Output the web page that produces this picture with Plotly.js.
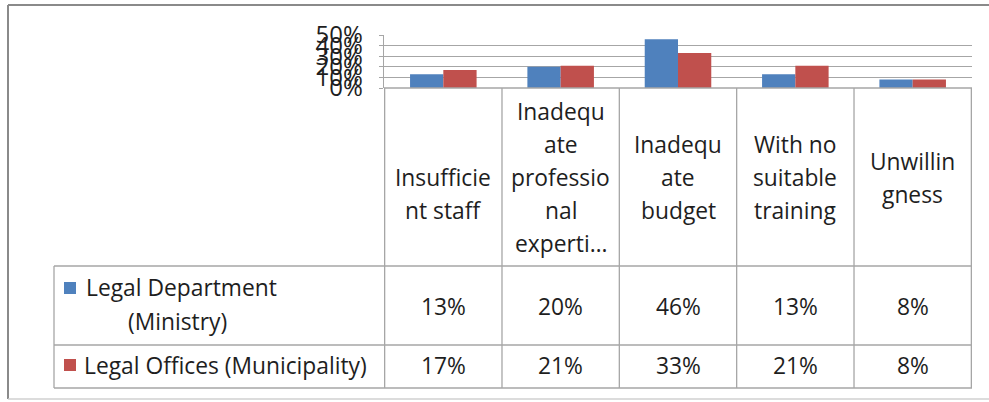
<!DOCTYPE html>
<html>
<head>
<meta charset="utf-8">
<script src="https://cdn.plot.ly/plotly-3.0.1.min.js"></script>
<style>html,body{margin:0;padding:0;background:#fff;}#chart{width:989px;height:402px;}</style>
</head>
<body>
<div id="chart"></div>
<script>
// ---- data ----
const categories = ["Insufficient staff", "Inadequate professional expertise", "Inadequate budget", "With no suitable training", "Unwillingness"];
const categoryLabelLines = [
  ["", "Insufficie", "nt staff"],
  ["Inadequ", "ate", "professio", "nal", "experti\u2026"],
  ["Inadequ", "ate", "budget"],
  ["With no", "suitable", "training"],
  ["Unwillin", "gness"]
];
const seriesNames = ["Legal Department (Ministry)", "Legal Offices (Municipality)"];
const seriesLabelLines = [["Legal Department", "(Ministry)"], ["Legal Offices (Municipality)"]];
const ministry = [0.13, 0.20, 0.46, 0.13, 0.08];
const municipality = [0.17, 0.21, 0.33, 0.21, 0.08];
const yTickVals = [0, 0.1, 0.2, 0.3, 0.4, 0.5];
const yTickText = ["0%", "10%", "20%", "30%", "40%", "50%"];

// ---- style / layout helpers ----
const W = 989, H = 402;
const colors = ["#4F81BD", "#C0504D"];
const FONT = "'Open Sans', Lato, sans-serif";
const TXT = "#1e1e1e";
const GRID = "#a6a6a6";
const FS = 22.8;
const px = p => p / W;
const py = p => 1 - p / H;

const plotLeft = 384, plotRight = 972, plotTop = 35, plotBottom = 88;
const headBottom = 266, row1Bottom = 345, tableBottom = 388, tableLeft = 54;

const seriesValues = [ministry, municipality];
const traces = seriesValues.map((vals, i) => ({
  type: "bar",
  x: categories,
  y: vals,
  name: seriesNames[i],
  marker: {color: colors[i]},
  hoverinfo: "skip"
}));

const shapes = [];
const annotations = [];
const line = (x0, y0, x1, y1, color, width, xref) => shapes.push({
  type: "line", xref: xref || "paper", yref: "paper",
  x0: xref === "x" ? x0 : px(x0), x1: xref === "x" ? x1 : px(x1),
  y0: py(y0), y1: py(y1), line: {color: color, width: width}
});

// outer frame
line(8, 5, W, 5, "#8a8a8a", 2);
line(8, 5, 8, 399, "#8a8a8a", 2);
line(8, 399, W, 399, "#d0d0d0", 1.5);

// table lines
line(plotLeft, plotBottom, plotRight, plotBottom, GRID, 1.3);
line(tableLeft, headBottom, plotRight, headBottom, GRID, 1.3);
line(tableLeft, row1Bottom, plotRight, row1Bottom, GRID, 1.3);
line(tableLeft, tableBottom, plotRight, tableBottom, GRID, 1.3);
line(tableLeft, headBottom, tableLeft, tableBottom, GRID, 1.3);
for (let k = 0; k <= categories.length; k++) {
  line(k - 0.5, plotBottom, k - 0.5, tableBottom, GRID, 1.3, "x");
}

// category header text
const headCenter = (plotBottom + headBottom) / 2 + 0.5;
const lineGap = 33;
categoryLabelLines.forEach((lines, c) => {
  const n = lines.length;
  lines.forEach((t, j) => {
    if (!t) return;
    const yc = headCenter + (j - (n - 1) / 2) * lineGap;
    annotations.push({xref: "x", yref: "paper", x: categories[c], y: py(yc),
      text: t, showarrow: false, xanchor: "center", yanchor: "middle",
      font: {family: FONT, size: FS, color: TXT}});
  });
});

// value rows
const rowCenters = [306, 365];
seriesValues.forEach((vals, i) => {
  vals.forEach((v, c) => {
    annotations.push({xref: "x", yref: "paper", x: categories[c], y: py(rowCenters[i]),
      text: Math.round(v * 100) + "%", showarrow: false, xanchor: "center", yanchor: "middle",
      font: {family: FONT, size: FS, color: TXT}});
  });
});

// series key cells
const keyRows = [{sq: [282, 294], lines: [[84, 287], [126, 321]]}, {sq: [359, 371], lines: [[82, 365]]}];
keyRows.forEach((kr, i) => {
  shapes.push({type: "rect", xref: "paper", yref: "paper",
    x0: px(64), x1: px(76), y0: py(kr.sq[0]), y1: py(kr.sq[1]),
    fillcolor: colors[i], line: {width: 0}});
  seriesLabelLines[i].forEach((t, j) => {
    annotations.push({xref: "paper", yref: "paper", x: px(kr.lines[j][0]), y: py(kr.lines[j][1]),
      text: t, showarrow: false, xanchor: "left", yanchor: "middle",
      font: {family: FONT, size: FS, color: TXT}});
  });
});

const layout = {
  width: W, height: H,
  margin: {l: 0, r: 0, t: 0, b: 0, pad: 0},
  paper_bgcolor: "#ffffff", plot_bgcolor: "#ffffff",
  showlegend: false,
  barmode: "group", bargap: 0.433, bargroupgap: 0,
  xaxis: {
    domain: [px(plotLeft), px(plotRight)],
    showticklabels: false, showgrid: false, zeroline: false, showline: false,
    ticks: "", fixedrange: true, automargin: false
  },
  yaxis: {
    domain: [py(plotBottom), py(plotTop)],
    range: [0, 0.5], tickvals: yTickVals, ticktext: yTickText,
    showgrid: true, gridcolor: GRID, gridwidth: 1.3,
    zeroline: false, showline: true, linecolor: GRID, linewidth: 1.3,
    ticks: "outside", ticklen: 4, tickcolor: GRID,
    ticklabelstandoff: 11,
    tickfont: {family: FONT, size: 24, color: TXT},
    fixedrange: true, automargin: false
  },
  shapes: shapes,
  annotations: annotations
};

Plotly.newPlot("chart", traces, layout, {displayModeBar: false, staticPlot: true});
</script>
</body>
</html>
